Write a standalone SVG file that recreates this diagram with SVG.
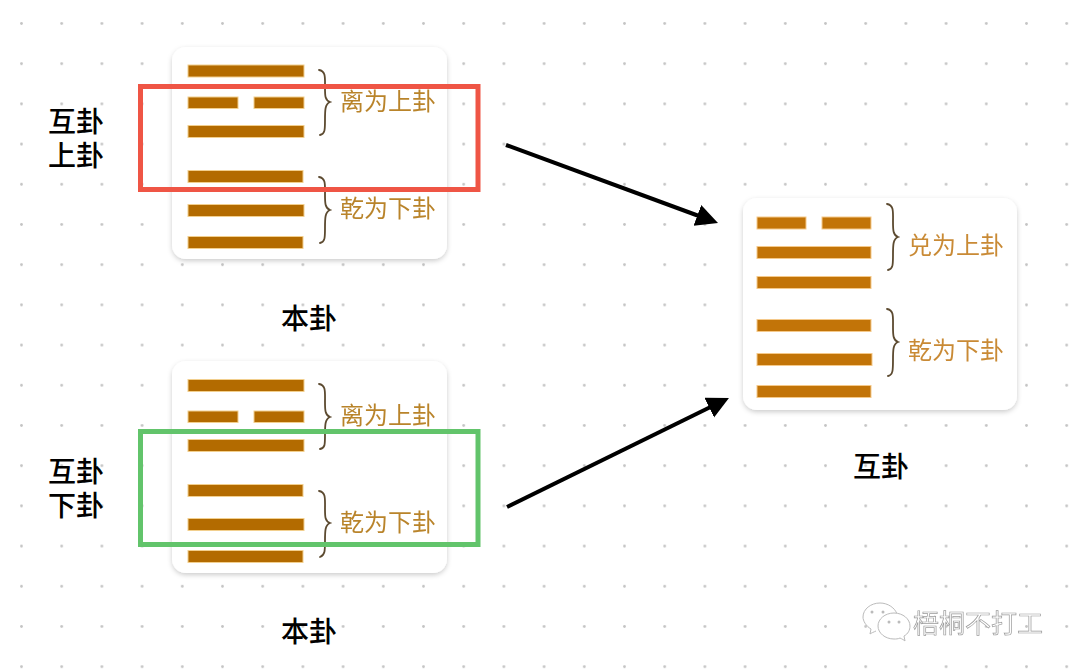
<svg xmlns="http://www.w3.org/2000/svg" width="1080" height="672" viewBox="0 0 1080 672">
<style>
text{font-family:"Noto Sans CJK SC","Noto Sans",sans-serif}
.card{fill:#fff;filter:url(#sh)}
.bar{fill:#b36b00;stroke:#f2cf8e;stroke-width:1}
.bar2{fill:#c27408;stroke:#f5c98a;stroke-width:1}
.brace{fill:none;stroke:#5c4a30;stroke-width:1.8;stroke-linecap:round}
.lab{font-size:24px;fill:#b9842c;text-anchor:middle;filter:url(#soft)}
.lab2{font-size:24px;fill:#c98a35;text-anchor:middle;filter:url(#soft)}
.big{font-size:28px;font-weight:500;fill:#000;text-anchor:middle}
.arr{stroke:#000;stroke-width:4;fill:none}
.box{fill:none;stroke-width:5}
.wm{font-size:26px;fill:#fff;stroke:#9a9a9a;stroke-width:.7;text-anchor:middle;filter:url(#soft)}
</style>
<defs>
<pattern id="dots" x="0" y="0" width="40.2" height="40.2" patternUnits="userSpaceOnUse" patternTransform="translate(1.4 3.4)"><circle cx="20.1" cy="20.1" r="1.4" fill="#c4c4c4"/></pattern>
<filter id="sh" x="-10%" y="-10%" width="120%" height="120%"><feDropShadow dx="0" dy="2" stdDeviation="2.5" flood-color="#000" flood-opacity=".2"/></filter>
<filter id="soft" x="-5%" y="-10%" width="110%" height="120%"><feGaussianBlur stdDeviation=".45"/></filter>
<marker id="ah" markerUnits="userSpaceOnUse" markerWidth="30" markerHeight="24" refX="6" refY="11" orient="auto"><path d="M0 0L22 11L0 22Z" fill="#000"/></marker>
</defs>
<rect width="1080" height="672" fill="#fff"/>
<rect width="1080" height="672" fill="url(#dots)"/>
<g id="card-benguaA">
<rect class="card" x="172" y="47" width="275" height="212" rx="14"/>
<rect class="bar" x="188" y="65" width="116" height="12"/>
<rect class="bar" x="188" y="97" width="50" height="11.5"/><rect class="bar" x="254" y="97" width="50" height="11.5"/>
<rect class="bar" x="188" y="125.500" width="116" height="12"/>
<rect class="bar" x="188" y="170.500" width="115" height="12"/>
<rect class="bar" x="188" y="204.500" width="116" height="12"/>
<rect class="bar" x="188" y="236.500" width="115" height="12"/>
<path class="brace" d="M319 70C326 71 325 78 325 88C325 96 325 100 330 102C325 104 325 110 325 120C325 130 325 134 320 135"/>
<path class="brace" d="M319 177C326 178 325 185 325 195C325 203 325 208 330 210C325 212 325 218 325 228C325 238 325 242 320 243"/>
<text class="lab" x="388" y="110">离为上卦</text>
<text class="lab" x="388" y="217">乾为下卦</text>
</g>
<g id="card-benguaB">
<rect class="card" x="172" y="361" width="275" height="212" rx="14"/>
<rect class="bar" x="188" y="379.500" width="116" height="12"/>
<rect class="bar" x="188" y="411" width="50" height="11.500"/><rect class="bar" x="254" y="411" width="50" height="11.500"/>
<rect class="bar" x="188" y="439.500" width="116" height="12"/>
<rect class="bar" x="188" y="484.500" width="115" height="12"/>
<rect class="bar" x="188" y="518.500" width="116" height="12"/>
<rect class="bar" x="188" y="550.500" width="115" height="12"/>
<path class="brace" d="M319 384C326 385 325 392 325 402C325 410 325 415 330 417C325 419 325 425 325 435C325 445 325 448 320 449"/>
<path class="brace" d="M319 491C326 492 325 499 325 509C325 517 325 521 330 523C325 525 325 531 325 541C325 551 325 555 320 557"/>
<text class="lab" x="388" y="424">离为上卦</text>
<text class="lab" x="388" y="531">乾为下卦</text>
</g>
<g id="card-hugua">
<rect class="card" x="743" y="198" width="274" height="212" rx="14"/>
<rect class="bar2" x="757" y="217" width="49" height="12"/><rect class="bar2" x="822" y="217" width="49" height="12"/>
<rect class="bar2" x="757" y="246.500" width="114" height="12"/>
<rect class="bar2" x="757" y="276.500" width="114" height="12"/>
<rect class="bar2" x="757" y="319.500" width="114" height="12"/>
<rect class="bar2" x="757" y="353.500" width="115" height="12"/>
<rect class="bar2" x="757" y="385.500" width="114" height="12"/>
<path class="brace" d="M887 204C894 205 893 212 893 222C893 230 893 235 898 237C893 239 893 245 893 255C893 265 893 269 888 270"/>
<path class="brace" d="M887 309C894 310 893 317 893 327C893 335 893 340 898 342C893 344 893 350 893 360C893 370 893 375 888 376"/>
<text class="lab2" x="956" y="254">兑为上卦</text>
<text class="lab2" x="956" y="359">乾为下卦</text>
</g>
<g id="label-shanggua"><text class="big" x="76" y="132">互卦</text><text class="big" x="76" y="166">上卦</text></g>
<g id="label-xiagua"><text class="big" x="76" y="482">互卦</text><text class="big" x="76" y="516">下卦</text></g>
<g id="label-benguaA"><text class="big" x="309" y="329">本卦</text></g>
<g id="label-benguaB"><text class="big" x="309" y="642">本卦</text></g>
<g id="label-hugua"><text class="big" x="881" y="477">互卦</text></g>
<g id="box-red"><rect class="box" stroke="#ef5545" x="140.500" y="86.500" width="337.500" height="103"/></g>
<g id="box-green"><rect class="box" stroke="#62c46b" x="140.500" y="431.500" width="337.500" height="113"/></g>
<g id="connectors">
<line class="arr" x1="506" y1="145" x2="703" y2="217.500" marker-end="url(#ah)"/>
<line class="arr" x1="507" y1="507" x2="714.600" y2="405" marker-end="url(#ah)"/>
</g>
<g id="watermark">
<path d="M876 631C874 632 871 633 870 634L871 629C866 626 863 621 863 617C863 609 871 603 880 603C888 603 895 608 897 614" fill="#fff" stroke="#bbb" stroke-width="1"/>
<path d="M900 638C902 639 904 640 905 641L904 636C908 634 910 630 910 626C910 619 903 613 894 613C885 613 878 619 878 626C878 633 885 639 894 639C896 639 898 639 900 638Z" fill="#fff" stroke="#bbb" stroke-width="1"/>
<circle cx="872" cy="612" r="1.500" fill="#bbb"/><circle cx="883" cy="612" r="1.500" fill="#bbb"/><circle cx="889" cy="622" r="1.500" fill="#bbb"/><circle cx="899" cy="622" r="1.500" fill="#bbb"/>
<text class="wm" x="978" y="633">梧桐不打工</text>
</g>
</svg>
